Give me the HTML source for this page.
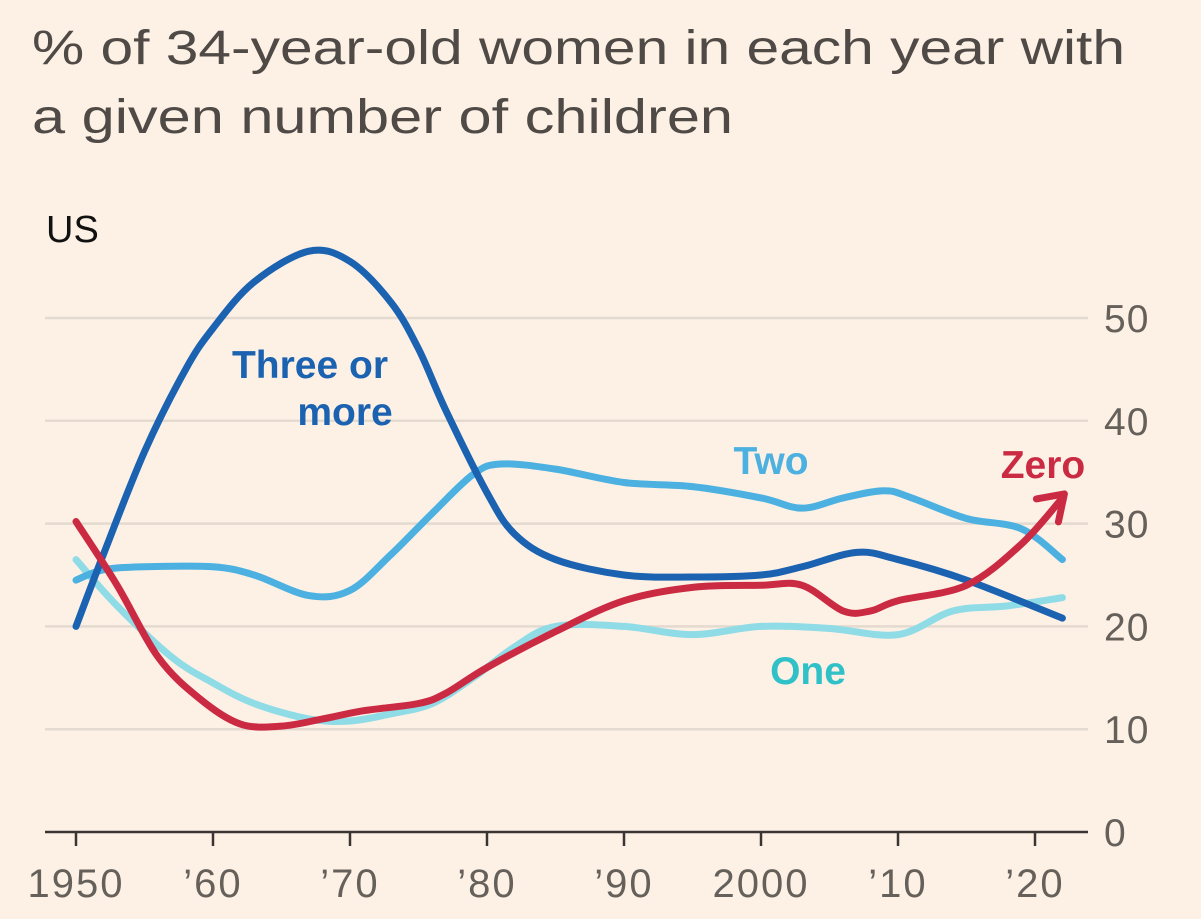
<!DOCTYPE html>
<html><head><meta charset="utf-8"><style>
html,body{margin:0;padding:0;background:#fdf1e6;}
svg{display:block;font-family:"Liberation Sans",sans-serif;}
</style></head><body>
<svg id="chart" width="1201" height="919" viewBox="0 0 1201 919">
<rect width="1201" height="919" fill="#fdf1e6"/>
<text x="32" y="64" font-size="48" fill="#4f4a46" textLength="1093" lengthAdjust="spacingAndGlyphs">% of 34-year-old women in each year with</text>
<text x="32" y="133" font-size="48" fill="#4f4a46" textLength="701" lengthAdjust="spacingAndGlyphs">a given number of children</text>
<text x="46" y="242" font-size="38" fill="#111">US</text>
<g id="grid"></g><g id="lines"></g><g id="labels"></g>
</svg>
<script>
const yTicks=[0,10,20,30,40,50];
const xTickYears=[1950,1960,1970,1980,1990,2000,2010,2020];
const xTickLabels=["1950","’60","’70","’80","’90","2000","’10","’20"];
const threeYears=[1950,1952,1955,1958,1960,1963,1967,1970,1973,1975,1977,1980,1982,1985,1990,1995,2000,2003,2007,2010,2015,2022];
const threeVals=[20,27,37,45,49,53.5,56.5,55.5,51.5,47,41,33,29,26.5,25,24.8,25,25.8,27.2,26.5,24.5,20.8];
const twoYears=[1950,1952,1955,1960,1963,1967,1970,1973,1976,1979,1981,1985,1990,1995,2000,2003,2006,2009,2011,2015,2019,2022];
const twoVals=[24.5,25.5,25.8,25.8,25,23,23.5,27,31,34.8,35.8,35.3,34,33.6,32.5,31.5,32.5,33.2,32.5,30.5,29.5,26.5];
const oneYears=[1950,1953,1957,1960,1963,1967,1970,1973,1976,1979,1982,1985,1990,1995,2000,2005,2010,2014,2018,2022];
const oneVals=[26.5,22,17,14.5,12.5,11,10.8,11.5,12.5,15,18,20,20,19.2,20,19.8,19.2,21.5,22,22.8];
const zeroYears=[1950,1953,1956,1959,1962,1965,1968,1971,1975,1977,1980,1985,1990,1995,2000,2003,2006,2008,2010,2015,2019,2022];
const zeroVals=[30.2,24,17,13,10.5,10.3,11,11.8,12.5,13.5,16,19.5,22.5,23.8,24,24,21.5,21.5,22.5,24,28,32.5];

const NS="http://www.w3.org/2000/svg";
const xS=y=>76+(y-1950)*13.7;
const yS=v=>832-v*10.28;
function mk(tag,attrs,parent){const e=document.createElementNS(NS,tag);for(const k in attrs)e.setAttribute(k,attrs[k]);parent.appendChild(e);return e;}
const grid=document.getElementById('grid'),lines=document.getElementById('lines'),labels=document.getElementById('labels');
yTicks.forEach(t=>{
  if(t>0){const g=mk('line',{x1:45,x2:1088,y1:yS(t),y2:yS(t),stroke:'#e4dad0','stroke-width':2.5},grid);
  
  }
  const l=mk('text',{x:1104,y:yS(t)+14,'font-size':39,fill:'#66605b','letter-spacing':1},labels);l.textContent=t;
  
  
});
const ax=mk('line',{x1:45,x2:1088,y1:832,y2:832,stroke:'#3a3532','stroke-width':2.5},grid);


xTickYears.forEach((y,i)=>{
  const tk=mk('line',{x1:xS(y),x2:xS(y),y1:832,y2:846,stroke:'#3a3532','stroke-width':2.5},grid);
  
  
  const l=mk('text',{x:xS(y),y:897,'font-size':40,fill:'#66605b','text-anchor':'middle','letter-spacing':2},labels);l.textContent=xTickLabels[i];
  
  
});
function path(xs,vs){const p=xs.map((x,i)=>[xS(x),yS(vs[i])]);let d='M'+p[0][0]+','+p[0][1];
  for(let i=0;i<p.length-1;i++){const p0=p[i-1]||p[i],p1=p[i],p2=p[i+1],p3=p[i+2]||p2;
   d+=' C'+(p1[0]+(p2[0]-p0[0])/6)+','+(p1[1]+(p2[1]-p0[1])/6)+' '+(p2[0]-(p3[0]-p1[0])/6)+','+(p2[1]-(p3[1]-p1[1])/6)+' '+p2[0]+','+p2[1];}
  return d;}
function series(xs,vs,col,name){const e=mk('path',{d:path(xs,vs),fill:'none',stroke:col,'stroke-width':7,'stroke-linecap':'round','stroke-linejoin':'round'},lines);
  
  return e;}
series(oneYears,oneVals,'#8fdbe6','series-one');
series(twoYears,twoVals,'#4cb1e0','series-two');
series(threeYears,threeVals,'#1b62b0','series-three-or-more');
series(zeroYears,zeroVals,'#cb2a43','series-zero');
const n=zeroYears.length,ex=xS(zeroYears[n-1]),ey=yS(zeroVals[n-1]);
const ar=mk('path',{d:`M${ex-26},${ey+1} L${ex+2},${ey-4} L${ex-4},${ey+24}`,fill:'none',stroke:'#cb2a43','stroke-width':7,'stroke-linecap':'round','stroke-linejoin':'round'},lines);


function lab(t,x,y,c,name){const l=mk('text',{x:x,y:y,'font-size':39,'font-weight':'bold',fill:c,'text-anchor':'middle'},labels);l.textContent=t;
  
  }
lab('Three or',310,378,'#1b62b0','label-three-or-more');
lab('more',345,425,'#1b62b0','label-three-or-more-2');
lab('Two',771,474,'#4cb1e0','label-two');
lab('Zero',1043,478,'#cb2a43','label-zero');
lab('One',808,684,'#2fc0c8','label-one');
</script>
</body></html>
